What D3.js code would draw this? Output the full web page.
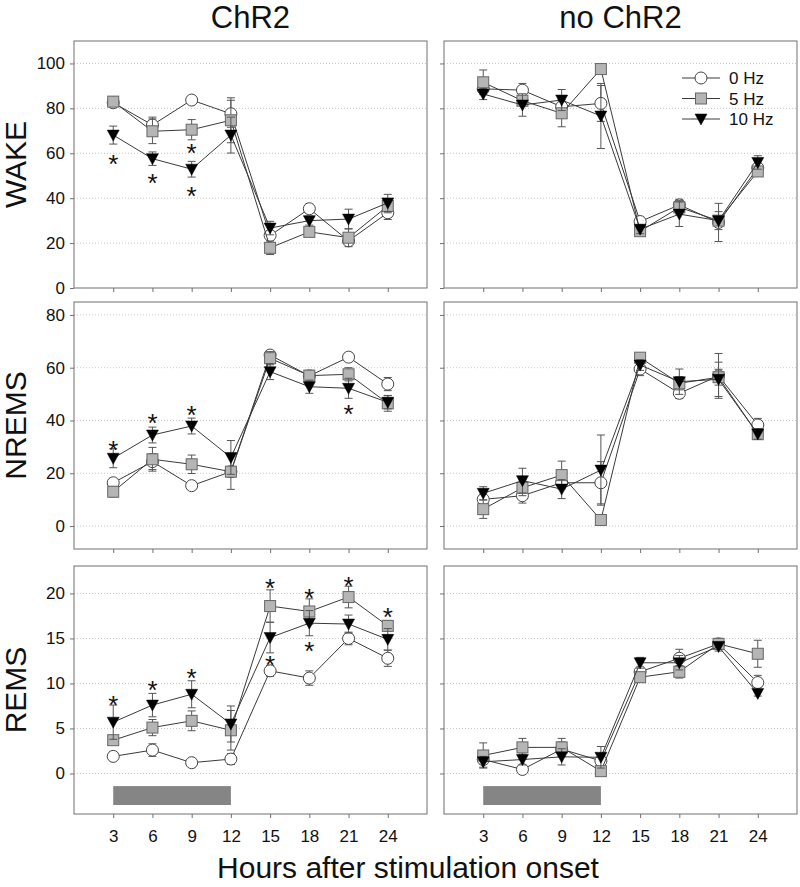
<!DOCTYPE html>
<html>
<head>
<meta charset="utf-8">
<script src="https://cdn.jsdelivr.net/npm/d3@7"></script>
<style>
  body { margin: 0; background: #fff; }
  text { font-family: Arial, "Liberation Sans", sans-serif; fill: #111; }
</style>
</head>
<body>
<div id="chart"></div>
<script>
// hours after stimulation onset
var hours = [3, 6, 9, 12, 15, 18, 21, 24];
var freqs = ["0 Hz", "5 Hz", "10 Hz"];
var columnTitles = ["ChR2", "no ChR2"];
var rowTitles = ["WAKE", "NREMS", "REMS"];

// y tick labels for each row
var wakeTicks = [0, 20, 40, 60, 80, 100];
var nremsTicks = [0, 20, 40, 60, 80];
var remsTicks = [0, 5, 10, 15, 20];

// means, one row per frequency (0, 5, 10 Hz)
var wakeChR2 = [
  [82.5, 72.6, 83.7, 77.6, 23.4, 35.3, 21.0, 33.5],
  [83.0, 69.8, 70.5, 74.7, 17.9, 25.0, 22.4, 36.5],
  [68.1, 57.6, 52.9, 68.1, 26.7, 30.0, 30.7, 37.9]
];
var wakeChR2Err = [
  [1.5, 3.5, 1.0, 6.0, 2.0, 2.0, 1.5, 3.0],
  [2.0, 5.5, 4.5, 10.0, 3.0, 2.0, 4.0, 3.0],
  [4.0, 3.0, 3.5, 8.0, 3.0, 2.0, 4.4, 3.8]
];
var wakeNoChR2 = [
  [88.7, 88.1, 80.7, 82.2, 29.6, 37.0, 29.2, 53.5],
  [91.6, 83.4, 77.8, 97.5, 25.3, 35.9, 30.0, 51.9],
  [86.4, 81.5, 83.7, 76.6, 26.2, 32.9, 30.0, 55.9]
];
var wakeNoChR2Err = [
  [2.0, 3.0, 2.0, 8.0, 2.0, 2.5, 8.5, 2.0],
  [5.5, 2.0, 6.0, 2.0, 1.5, 3.0, 2.0, 2.0],
  [2.5, 5.0, 4.7, 14.5, 2.0, 5.5, 4.0, 3.0]
];
var nremsChR2 = [
  [16.4, 24.4, 15.3, 20.6, 64.8, 56.9, 64.0, 53.8],
  [13.0, 25.3, 23.4, 20.6, 63.6, 57.0, 57.5, 46.5],
  [25.7, 34.5, 37.9, 26.0, 58.5, 52.8, 52.2, 46.9]
];
var nremsChR2Err = [
  [1.5, 3.0, 1.2, 2.0, 1.5, 2.0, 1.5, 2.5],
  [2.0, 4.5, 3.5, 6.7, 2.5, 2.0, 2.5, 3.0],
  [3.6, 3.0, 3.0, 6.4, 3.0, 2.5, 3.8, 2.5]
];
var nremsNoChR2 = [
  [10.1, 11.5, 16.4, 16.4, 59.5, 50.3, 56.9, 38.3],
  [6.4, 14.5, 19.3, 2.3, 63.8, 54.1, 56.4, 34.8],
  [12.4, 17.2, 14.0, 21.2, 61.0, 54.7, 55.6, 34.9]
];
var nremsNoChR2Err = [
  [2.0, 2.8, 2.0, 8.0, 2.5, 2.0, 8.5, 2.5],
  [3.5, 3.0, 5.3, 1.5, 1.5, 2.5, 3.0, 2.0],
  [2.5, 4.7, 3.6, 13.3, 2.0, 4.8, 6.5, 2.0]
];
var remsChR2 = [
  [1.9, 2.6, 1.2, 1.6, 11.4, 10.6, 15.0, 12.8],
  [3.7, 5.1, 5.85, 4.8, 18.6, 18.0, 19.6, 16.4],
  [5.7, 7.6, 8.8, 5.5, 15.1, 16.7, 16.6, 14.9]
];
var remsChR2Err = [
  [0.3, 0.7, 0.3, 0.6, 0.6, 0.8, 0.7, 0.9],
  [0.4, 0.9, 1.1, 2.2, 1.8, 1.4, 1.2, 0.6],
  [1.9, 1.3, 1.5, 2.0, 1.7, 1.4, 1.0, 1.2]
];
var remsNoChR2 = [
  [1.55, 0.45, 2.7, 1.4, 11.3, 12.8, 14.4, 10.1],
  [2.0, 2.9, 2.9, 0.26, 10.7, 11.3, 14.4, 13.3],
  [1.3, 1.55, 1.85, 1.8, 12.3, 12.3, 14.1, 8.9]
];
var remsNoChR2Err = [
  [0.5, 0.3, 0.8, 0.6, 0.5, 1.0, 0.6, 0.8],
  [1.4, 1.0, 1.0, 0.3, 0.5, 0.7, 0.6, 1.5],
  [0.6, 0.6, 0.9, 1.2, 0.6, 0.8, 0.5, 0.3]
];

// significance stars [hour, value]
var wakeStars = [[3, 58], [6, 49.6], [9, 63], [9, 43.7]];
var nremsStars = [[3, 31.3], [6, 41.7], [9, 44.6], [21, 45]];
var remsStars = [[3, 8.3], [6, 10], [9, 11.3], [15, 21.3], [15, 12.8], [18, 20.2], [18, 14.3], [21, 21.6], [24, 18.1]];

// stimulation period (hours)
var stimPeriod = [3, 12];

var svgWidth = 800, svgHeight = 887;

var svg = d3.select("#chart").append("svg")
  .attr("width", svgWidth)
  .attr("height", svgHeight);

// panel layout
var cols = [{x0: 74, x1: 427}, {x0: 444, x1: 797}];
var rows = [
  {y0: 41, y1: 288, domain: [0, 110], ticks: wakeTicks, means: [wakeChR2, wakeNoChR2], errs: [wakeChR2Err, wakeNoChR2Err], stars: wakeStars},
  {y0: 302, y1: 549, domain: [-8.7, 84.9], ticks: nremsTicks, means: [nremsChR2, nremsNoChR2], errs: [nremsChR2Err, nremsNoChR2Err], stars: nremsStars},
  {y0: 566, y1: 814, domain: [-4.5, 23.05], ticks: remsTicks, means: [remsChR2, remsNoChR2], errs: [remsChR2Err, remsNoChR2Err], stars: remsStars, bar: true}
];

var frameColor = "#707070";
var lineColor = "#3a3a3a";

function drawMarker(g, k, x, y) {
  if (k === 0) {
    g.append("circle").attr("cx", x).attr("cy", y).attr("r", 6)
      .attr("fill", "#fff").attr("stroke", "#444").attr("stroke-width", 1);
  } else if (k === 1) {
    g.append("rect").attr("x", x - 5.5).attr("y", y - 5.5).attr("width", 11).attr("height", 11)
      .attr("fill", "#b5b5b5").attr("stroke", "#666").attr("stroke-width", 1);
  } else {
    g.append("path").attr("d", `M${x - 6},${y - 5}L${x + 6},${y - 5}L${x},${y + 6}Z`)
      .attr("fill", "#000").attr("stroke", "#000").attr("stroke-width", 0.5);
  }
}

rows.forEach(function(row, ri) {
  cols.forEach(function(col, ci) {
    var x = d3.scaleLinear().domain([0, 27]).range([col.x0, col.x1]);
    var y = d3.scaleLinear().domain(row.domain).range([row.y1, row.y0]);
    var g = svg.append("g");

    // dotted gridlines
    g.selectAll(".grid").data(row.ticks.filter(t => y(t) < row.y1 - 1))
      .enter().append("line")
      .attr("x1", col.x0).attr("x2", col.x1)
      .attr("y1", d => y(d)).attr("y2", d => y(d))
      .attr("stroke", "#c8c8c8").attr("stroke-width", 1)
      .attr("stroke-dasharray", "1,2");

    // stimulation bar
    if (row.bar) {
      g.append("rect")
        .attr("x", x(stimPeriod[0])).attr("width", x(stimPeriod[1]) - x(stimPeriod[0]))
        .attr("y", y(-1.4)).attr("height", y(-3.5) - y(-1.4))
        .attr("fill", "#858585");
    }

    // axes
    var yAxis = d3.axisLeft(y).tickValues(row.ticks).tickSizeOuter(0).tickSize(4).tickPadding(5);
    if (ci === 1) yAxis.tickFormat("");
    var ya = g.append("g").attr("transform", `translate(${col.x0},0)`).call(yAxis);
    ya.select(".domain").remove();
    ya.selectAll("line").attr("stroke", frameColor);
    ya.selectAll("text").attr("font-size", 17).attr("fill", "#111")
      .style("font-family", "Arial, 'Liberation Sans', sans-serif");

    var xAxis = d3.axisBottom(x).tickValues(hours).tickSizeOuter(0).tickSize(4).tickPadding(12);
    if (ri < 2) xAxis.tickFormat("");
    var xa = g.append("g").attr("transform", `translate(0,${row.y1})`).call(xAxis);
    xa.select(".domain").remove();
    xa.selectAll("line").attr("stroke", frameColor);
    xa.selectAll("text").attr("font-size", 17).attr("fill", "#111")
      .style("font-family", "Arial, 'Liberation Sans', sans-serif");

    // frame
    g.append("rect")
      .attr("x", col.x0).attr("y", row.y0)
      .attr("width", col.x1 - col.x0).attr("height", row.y1 - row.y0)
      .attr("fill", "none").attr("stroke", frameColor).attr("stroke-width", 1);

    // series
    var means = row.means[ci], errs = row.errs[ci];
    means.forEach(function(vals, k) {
      var sg = g.append("g");
      vals.forEach(function(v, i) {
        var e = errs[k][i], px = x(hours[i]);
        sg.append("line").attr("x1", px).attr("x2", px)
          .attr("y1", y(v - e)).attr("y2", y(v + e))
          .attr("stroke", "#555").attr("stroke-width", 1);
        [v - e, v + e].forEach(function(c) {
          sg.append("line").attr("x1", px - 4).attr("x2", px + 4)
            .attr("y1", y(c)).attr("y2", y(c))
            .attr("stroke", "#555").attr("stroke-width", 1);
        });
      });
      sg.append("path")
        .datum(vals)
        .attr("d", d3.line().x((d, i) => x(hours[i])).y(d => y(d)))
        .attr("fill", "none").attr("stroke", lineColor).attr("stroke-width", 1);
      vals.forEach(function(v, i) {
        drawMarker(sg, k, x(hours[i]), y(v));
      });
    });

    // asterisks
    if (ci === 0) {
      g.selectAll(".star").data(row.stars).enter().append("text")
        .attr("x", d => x(d[0])).attr("y", d => y(d[1]))
        .attr("dy", "0.6em")
        .attr("text-anchor", "middle")
        .attr("font-size", 26)
        .text("*");
    }

    // legend
    if (ri === 0 && ci === 1) {
      freqs.forEach(function(f, k) {
        var ly = 78 + k * 20.5;
        g.append("line").attr("x1", 682).attr("x2", 720).attr("y1", ly).attr("y2", ly)
          .attr("stroke", lineColor).attr("stroke-width", 1);
        drawMarker(g, k, 701, ly);
        g.append("text").attr("x", 729).attr("y", ly + 6)
          .attr("font-size", 17).text(f);
      });
    }
  });
});

// column titles
svg.selectAll(".coltitle").data(columnTitles).enter().append("text")
  .attr("x", (d, i) => (cols[i].x0 + cols[i].x1) / 2)
  .attr("y", 28)
  .attr("text-anchor", "middle")
  .attr("font-size", 31)
  .text(d => d);

// row titles
svg.selectAll(".rowtitle").data(rowTitles).enter().append("text")
  .attr("transform", (d, i) => `translate(26,${(rows[i].y0 + rows[i].y1) / 2}) rotate(-90)`)
  .attr("text-anchor", "middle")
  .attr("font-size", 30)
  .text(d => d);

// x axis title
svg.append("text")
  .attr("x", 408).attr("y", 878)
  .attr("text-anchor", "middle")
  .attr("font-size", 30)
  .text("Hours after stimulation onset");
</script>
</body>
</html>
